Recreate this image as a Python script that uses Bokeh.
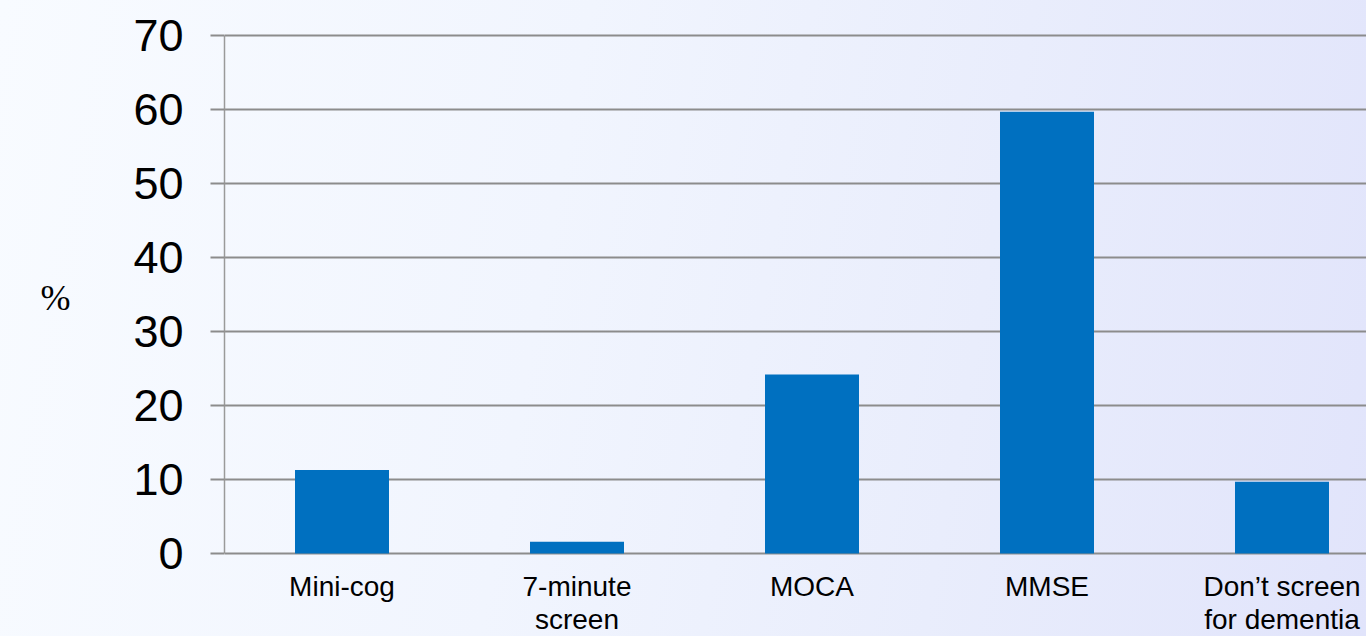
from bokeh.plotting import figure
from bokeh.models import Range1d, FixedTicker, ColumnDataSource
from bokeh.core.properties import value
from bokeh.embed import file_html
from bokeh.resources import INLINE

# ---- data ----
categories = ["Mini-cog", "7-minute\nscreen", "MOCA", "MMSE", "Don\u2019t screen\nfor dementia"]
percent = [11.3, 1.6, 24.2, 59.7, 9.7]
y_ticks = [0, 10, 20, 30, 40, 50, 60, 70]
y_label = "%"

xpos = [i + 0.5 for i in range(len(categories))]
src = ColumnDataSource(dict(x=xpos, top=percent, cat=categories))

W, H = 1366, 636
left, top = 224, 31
slot_px = 235.0
px_per_unit = (553 - 35) / 70.0

x_end = (W - left) / slot_px
y_end = 70 + (35 - top) / px_per_unit
y_start = -(H - 553) / px_per_unit

p = figure(width=W, height=H, output_backend="svg", toolbar_location=None,
           x_range=Range1d(0, x_end), y_range=Range1d(y_start, y_end),
           min_border_left=left, min_border_right=0, min_border_top=top,
           min_border_bottom=0)
p.background_fill_alpha = 0
p.border_fill_alpha = 0
p.outline_line_color = None
grad = "linear-gradient(100deg, #f8fbff 0%, #f1f5fe 40%, #e9edfc 70%, #e1e4fb 100%)"
p.styles = {"background": grad}

p.vbar(x="x", top="top", width=0.4, bottom=0, source=src,
       fill_color="#0070c0", line_color=None)

# category labels under the baseline
p.text(x="x", y=-2.4, text="cat", source=src,
       text_font=value("Liberation Sans"), text_font_size="28px",
       text_align="center", text_baseline="top", text_color="#000000",
       text_line_height=1.06)

p.xaxis.visible = False
p.xgrid.visible = False

ya = p.yaxis[0]
ya.ticker = FixedTicker(ticks=y_ticks)
ya.bounds = (0, 70)
ya.axis_line_color = "#9a9a9a"
ya.axis_line_width = 1.5
ya.major_tick_out = 14
ya.major_tick_in = 0
ya.minor_tick_line_color = None
ya.major_tick_line_color = "#8c8c8c"
ya.major_tick_line_width = 2
ya.major_label_standoff = 27
ya.major_label_text_font = "Liberation Sans"
ya.major_label_text_font_size = "45px"
ya.major_label_text_color = "#000000"
# "%" title, horizontal; blank lines below lift it to the middle of 0..70
ya.axis_label = y_label + "\n\u00a0\n\u00a0"
ya.axis_label_orientation = "horizontal"
ya.axis_label_standoff = 60
ya.axis_label_text_font = "Liberation Serif"
ya.axis_label_text_font_size = "36px"
ya.axis_label_text_font_style = "normal"
ya.axis_label_text_line_height = 0.9
ya.axis_label_text_color = "#000000"

p.ygrid.ticker = FixedTicker(ticks=y_ticks)
p.ygrid.grid_line_color = "#8c8c8c"
p.ygrid.grid_line_width = 2

html = file_html(p, INLINE)
html = html.replace("<body>", "<body style=\"margin:0;background:" + grad + ";\">", 1)
open("out.html", "w").write(html)
